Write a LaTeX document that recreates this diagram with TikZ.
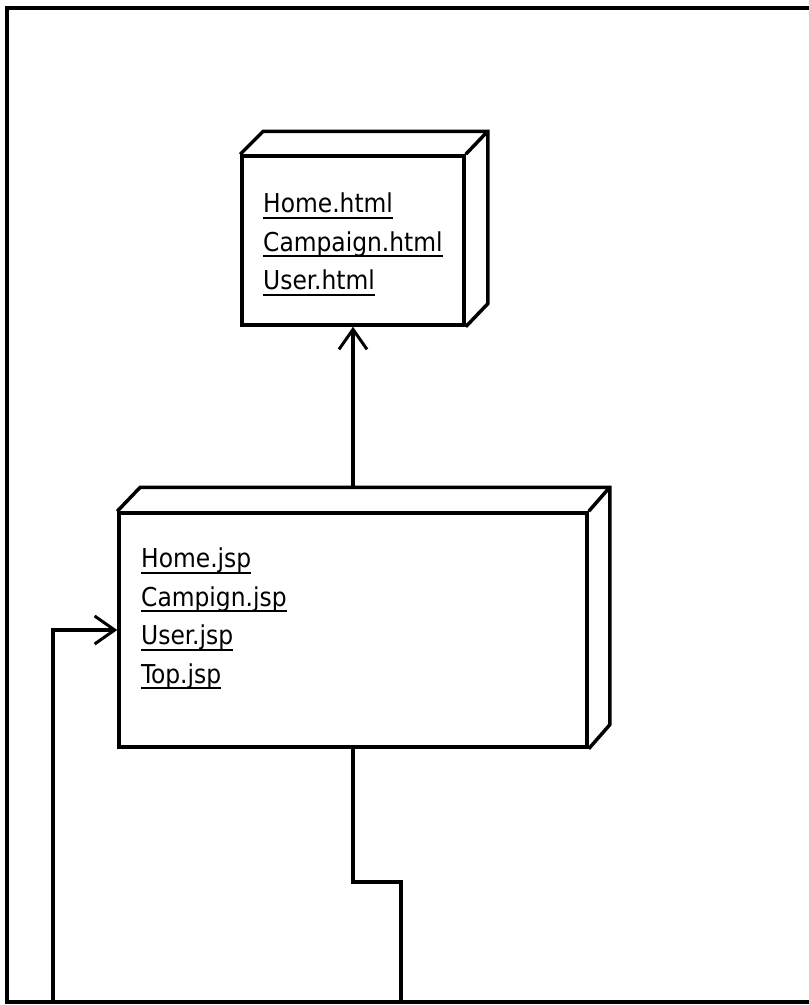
\documentclass[tikz,border=0pt]{standalone}
\usepackage{fontspec}
\setmainfont{DejaVu Sans Condensed}
\usetikzlibrary{arrows.meta}

% underlined file name, rule at a fixed depth
\newcommand{\fname}[1]{\setbox0\hbox{#1}\rlap{\rule[-6pt]{\wd0}{2pt}}\box0}

\tikzset{
  devbox/.style={draw, line width=3.5pt, rectangle, inner sep=0pt},
  boxline/.style={line width=3.5pt, line join=miter},
  filelist/.style={anchor=north west, align=left, inner sep=0pt,
    font=\fontsize{26}{38.5}\selectfont},
  conn/.style={line width=3.5pt},
  >={Straight Barb[length=20pt, width=28pt, line width=3pt]}
}

\begin{document}
\begin{tikzpicture}[x=1pt, y=-1pt]
  \useasboundingbox (0,0) rectangle (809,1005);
  % frame
  \draw[conn] (809,8) -- (7,8) -- (7,1002) -- (809,1002);

  % html node
  \node[devbox, minimum width=222, minimum height=169] (html) at (353,240.5) {};
  \draw[boxline] (html.north west) -- ++(23,-23) -| ([shift={(22,-23)}]html.south east) -- (html.south east);
  \draw[boxline] (html.north east) -- ++(22,-23);
  \node[filelist] (htmlfiles) at (263,193) {\fname{Home.html}\\\fname{Campaign.html}\\\fname{User.html}};

  % jsp node
  \node[devbox, minimum width=468, minimum height=234] (jsp) at (353,630) {};
  \draw[boxline] (jsp.north west) -- ++(23,-24) -| ([shift={(21,-24)}]jsp.south east) -- (jsp.south east);
  \draw[boxline] (jsp.north east) -- ++(21,-24);
  \node[filelist] (jspfiles) at (141,548) {\fname{Home.jsp}\\\fname{Campign.jsp}\\\fname{User.jsp}\\\fname{Top.jsp}};

  % connectors
  \coordinate (jsptop) at ([yshift=24pt]jsp.north);
  \coordinate (exitB) at (401,1002);
  \coordinate (entryA) at (53,1002);
  \draw[conn, ->] (jsptop) -- (html.south);
  \draw[conn] (jsp.south) -- ++(0,133) -| (exitB);
  \draw[conn, ->] (entryA) |- (jsp.west);
\end{tikzpicture}
\end{document}
